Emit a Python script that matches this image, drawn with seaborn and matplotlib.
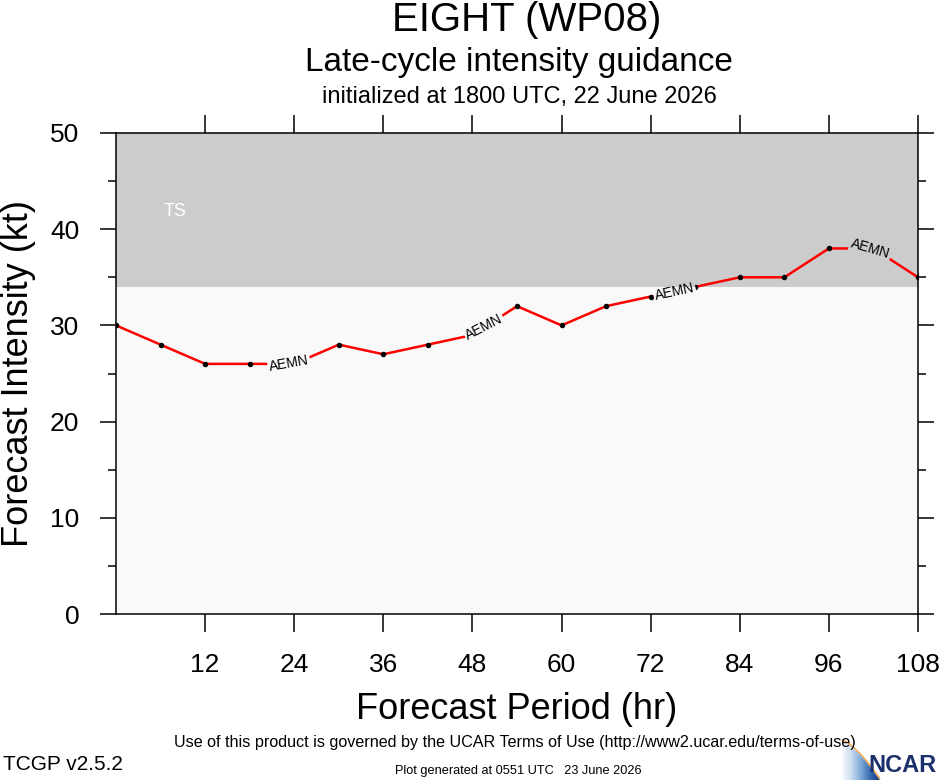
import numpy as np
import pandas as pd
import matplotlib
matplotlib.use("Agg")
import matplotlib.pyplot as plt
import seaborn as sns
from matplotlib.patches import Polygon, Rectangle
from matplotlib.colors import LinearSegmentedColormap

# ---------------- data ----------------
hours = [0, 6, 12, 18, 24, 30, 36, 42, 48, 54, 60, 66, 72, 78, 84, 90, 96, 102, 108]
aemn = [30, 28, 26, 26, 26, 28, 27, 28, 29, 32, 30, 32, 33, 34, 35, 35, 38, 38, 35]
model_name = "AEMN"
label_hours = [23.3, 49.6, 75.2, 101.6]
x_ticks = [12, 24, 36, 48, 60, 72, 84, 96, 108]
y_ticks = [0, 10, 20, 30, 40, 50]
y_minor = [5, 15, 25, 35, 45]
ts_threshold = 34
ts_label = "TS"

title = "EIGHT (WP08)"
subtitle = "Late-cycle intensity guidance"
init_text = "initialized at 1800 UTC, 22 June 2026"
xlabel = "Forecast Period (hr)"
ylabel = "Forecast Intensity (kt)"
terms = "Use of this product is governed by the UCAR Terms of Use (http://www2.ucar.edu/terms-of-use)"
version = "TCGP v2.5.2"
generated = "Plot generated at 0551 UTC   23 June 2026"

df = pd.DataFrame({"hour": hours, "vmax": aemn})

# ---------------- style ----------------
sns.set_style("ticks")
plt.rcParams["font.family"] = ["Liberation Sans", "DejaVu Sans"]
for k in ["text.color", "axes.labelcolor", "xtick.color", "ytick.color", "axes.edgecolor"]:
    plt.rcParams[k] = "black"

fig = plt.figure(figsize=(9.4, 7.8), dpi=100)
fig.patch.set_facecolor("white")
ax = fig.add_axes([116 / 940, 1 - 614 / 780, (918 - 116) / 940, (614 - 133) / 780])

bg_low = "#f9f9f9"
bg_ts = "#cccccc"
ax.set_facecolor(bg_low)
ax.axhspan(ts_threshold, 50, color=bg_ts, lw=0, zorder=0)

sns.lineplot(data=df, x="hour", y="vmax", ax=ax, color="#ff0000", lw=1.8,
             marker="o", markersize=3.2, markerfacecolor="black",
             markeredgecolor="black", zorder=3)

ax.set_xlim(0, 108)
ax.set_ylim(0, 50)
ax.set_xticks(x_ticks)
ax.set_yticks(y_ticks)
ax.set_yticks(y_minor, minor=True)
ax.tick_params(axis="both", which="major", direction="out", width=1.1,
               top=True, right=True, labeltop=False, labelright=False,
               labelsize=19, color="black", labelcolor="black")
ax.tick_params(axis="x", which="major", length=13, pad=15)
ax.tick_params(axis="y", which="major", length=11.5, pad=15)
ax.tick_params(axis="y", which="minor", direction="out", length=6, width=1.1,
               left=True, right=True)
for s in ax.spines.values():
    s.set_visible(True)
    s.set_linewidth(1.1)
    s.set_color("black")

ax.set_xlabel(xlabel, fontsize=26, labelpad=11)
ax.set_ylabel(ylabel, fontsize=26, labelpad=10)

ax.text(8, 41.8, ts_label, color="white", fontsize=13, ha="center", va="center", zorder=2)

# ---------------- inline model labels ----------------
fig.canvas.draw()
regions = [((0, 0), ts_threshold, bg_low), ((0, ts_threshold), 50 - ts_threshold, bg_ts)]
for lh in label_hours:
    ly = float(np.interp(lh, hours, aemn))
    y1 = float(np.interp(lh - 4, hours, aemn))
    y2 = float(np.interp(lh + 4, hours, aemn))
    p1 = ax.transData.transform((lh - 4, y1))
    p2 = ax.transData.transform((lh + 4, y2))
    ang = np.degrees(np.arctan2(p2[1] - p1[1], p2[0] - p1[0]))
    for origin, height, face in regions:
        t = ax.text(lh, ly, model_name, fontsize=10, rotation=ang, rotation_mode="anchor",
                    ha="center", va="center", zorder=4, color="black",
                    bbox=dict(boxstyle="square,pad=0.1", fc=face, ec="none"))
        rect = Rectangle(origin, 108, height, transform=ax.transData, fc="none", ec="none")
        t.set_clip_path(rect)
        t.set_clip_on(True)

# ---------------- titles ----------------
fig.text(527 / 940, 1 - 20 / 780, title, ha="center", va="center", fontsize=29)
fig.text(519 / 940, 1 - 62 / 780, subtitle, ha="center", va="center", fontsize=24)
fig.text(519 / 940, 1 - 97 / 780, init_text, ha="center", va="center", fontsize=17)

# ---------------- footer ----------------
fig.text(515 / 940, 1 - 742 / 780, terms, ha="center", va="center", fontsize=11.6)
fig.text(3 / 940, 1 - 765 / 780, version, ha="left", va="center", fontsize=15)
fig.text(518 / 940, 1 - 771 / 780, generated, ha="center", va="center", fontsize=9.2)

# NCAR logo
fig.text(936 / 940, 1 - 765 / 780, "NCAR", ha="right", va="center", fontsize=17,
         color="#1b2f6b", fontweight="bold")
lx0, lx1, ly0, ly1 = 840, 882, 738, 780
lax = fig.add_axes([lx0 / 940, 1 - ly1 / 780, (lx1 - lx0) / 940, (ly1 - ly0) / 780])
lax.set_xlim(0, 1)
lax.set_ylim(0, 1)
lax.axis("off")
cmap = LinearSegmentedColormap.from_list("ncar", ["#ffffff", "#cfe0f2", "#7ea7d8", "#2f63ab", "#17337a"])
grad = np.linspace(0, 1, 256)[None, :] * np.ones((64, 1))
im = lax.imshow(grad, extent=(0, 1, 0, 1), cmap=cmap, aspect="auto", origin="lower")
tt = np.linspace(0, 1, 60)
top_x = 0.05 + 0.9 * tt
top_y = 0.92 - 0.92 * tt ** 1.4
clip = Polygon(list(zip(top_x, top_y)) + [(0.95, 0.0), (0.05, 0.0)], closed=True,
               transform=lax.transData, fc="none", ec="none")
lax.add_patch(clip)
im.set_clip_path(clip)
lax.plot(top_x, top_y + 0.03, color="#f0a040", lw=1.0)

fig.savefig("out.png", dpi=100, facecolor="white")
